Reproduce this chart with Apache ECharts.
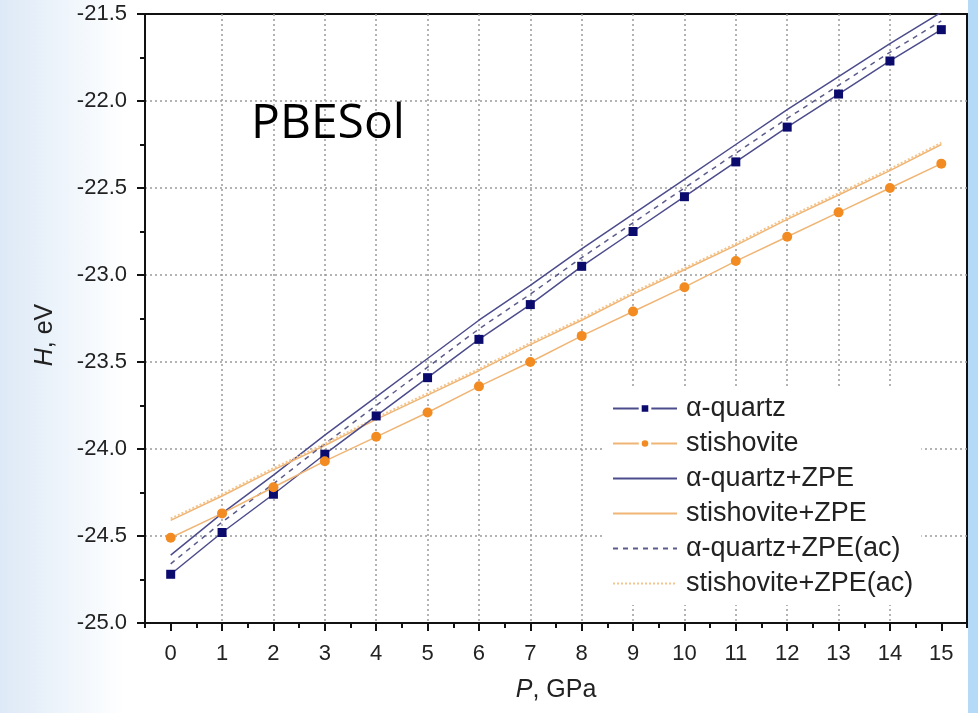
<!DOCTYPE html>
<html>
<head>
<meta charset="utf-8">
<script src="https://cdn.jsdelivr.net/npm/echarts@6/dist/echarts.min.js"></script>
<style>
html,body{margin:0;padding:0;width:978px;height:713px;overflow:hidden;}
body{background:
 linear-gradient(to right,#b5daf7 0,#b5daf7 100%) no-repeat 968px 0/10px 713px,
 linear-gradient(to right,#dde9f6 0px,#edf4fb 60px,#ffffff 125px,#ffffff 100%);}
#chart{width:978px;height:713px;}
</style>
</head>
<body>
<div id="chart"></div>
<script>
const pressure = [0,1,2,3,4,5,6,7,8,9,10,11,12,13,14,15];
const xTicks = [0,1,2,3,4,5,6,7,8,9,10,11,12,13,14,15];
const quartz = [-24.72,-24.48,-24.26,-24.03,-23.81,-23.59,-23.37,-23.17,-22.95,-22.75,-22.55,-22.35,-22.15,-21.96,-21.77,-21.59];
const stishovite = [-24.51,-24.37,-24.22,-24.07,-23.93,-23.79,-23.64,-23.50,-23.35,-23.21,-23.07,-22.92,-22.78,-22.64,-22.50,-22.36];
const quartzZPE = [-24.61,-24.37,-24.15,-23.92,-23.70,-23.48,-23.26,-23.06,-22.85,-22.65,-22.45,-22.25,-22.05,-21.86,-21.67,-21.49];
const stishZPE = [-24.41,-24.27,-24.12,-23.98,-23.83,-23.69,-23.55,-23.40,-23.26,-23.11,-22.97,-22.83,-22.68,-22.54,-22.40,-22.25];
const quartzZPEac = [-24.66,-24.42,-24.20,-23.97,-23.75,-23.53,-23.31,-23.11,-22.90,-22.70,-22.50,-22.30,-22.10,-21.91,-21.72,-21.54];
const stishZPEac = [-24.40,-24.26,-24.11,-23.97,-23.82,-23.68,-23.54,-23.39,-23.25,-23.10,-22.96,-22.82,-22.67,-22.53,-22.39,-22.24];
const seriesNames = ['α-quartz','stishovite','α-quartz+ZPE','stishovite+ZPE','α-quartz+ZPE(ac)','stishovite+ZPE(ac)'];

const pairs = arr => pressure.map((p,i)=>[p,arr[i]]);
const blueLine = '#4c4c8c', orangeLine = '#f0b574', orangeDot = '#f3c58f';
const font = 'Liberation Sans, Arial, sans-serif';
const noMarker = {color:'rgba(0,0,0,0)',borderColor:'rgba(0,0,0,0)',borderWidth:0};
const gapMarker = {borderColor:'#fff',borderWidth:3};
const gridLine = {show:true,showMinLine:false,showMaxLine:false,lineStyle:{color:'#9a9a9a',width:1.5,type:[2,3]}};

const chart = echarts.init(document.getElementById('chart'), null, {renderer:'canvas'});
chart.setOption({
  animation:false,
  textStyle:{fontFamily:font},
  grid:{left:145,right:11,top:14,bottom:90,show:true,borderColor:'#111',borderWidth:2,backgroundColor:'#fff'},
  xAxis:[{
    type:'value',min:-0.5,max:15.5,interval:0.5,
    name:'{i|P}, GPa',nameLocation:'middle',nameGap:55,
    nameTextStyle:{fontSize:25,color:'#222',rich:{i:{fontStyle:'italic',fontSize:25,color:'#222'}}},
    axisLine:{show:true,onZero:false,lineStyle:{color:'#111',width:2}},
    axisTick:{show:true,length:8,lineStyle:{color:'#111',width:2},customValues:xTicks},
    axisLabel:{fontSize:22,color:'#222',margin:20,customValues:xTicks},
    splitLine:gridLine
  },{
    type:'value',min:-0.5,max:15.5,interval:0.5,position:'bottom',
    axisLine:{show:false},
    axisTick:{show:true,length:5,lineStyle:{color:'#111',width:2}},
    axisLabel:{show:false},splitLine:{show:false}
  }],
  yAxis:{
    type:'value',min:-25,max:-21.5,interval:0.5,
    axisLine:{show:true,onZero:false,lineStyle:{color:'#111',width:2}},
    axisTick:{show:true,length:8,lineStyle:{color:'#111',width:2}},
    minorTick:{show:true,splitNumber:2,length:5,lineStyle:{color:'#111',width:2}},
    axisLabel:{fontSize:22,color:'#222',margin:18,formatter:v=>v.toFixed(1)},
    splitLine:gridLine
  },
  legend:{
    orient:'vertical',left:604,top:389,
    data:[
      {name:seriesNames[0],itemStyle:gapMarker},
      {name:seriesNames[1],itemStyle:gapMarker},
      {name:seriesNames[2],itemStyle:noMarker},
      {name:seriesNames[3],itemStyle:noMarker},
      {name:seriesNames[4],itemStyle:noMarker},
      {name:seriesNames[5],itemStyle:noMarker}
    ],
    itemWidth:64,itemHeight:12,itemGap:8,
    backgroundColor:'#fff',padding:[6,8,8,8],
    textStyle:{fontSize:27,color:'#222',padding:[0,0,0,4]}
  },
  graphic:[{
    type:'text',left:251,top:100,z:50,
    style:{text:'PBESol',font:'48px "Open Sans", "Noto Sans", sans-serif',fill:'#000'}
  },{
    type:'text',x:45,y:335,rotation:Math.PI/2,z:50,
    style:{text:'{i|H}, eV',font:'25px '+font,fill:'#222',align:'center',verticalAlign:'middle',
      rich:{i:{fontStyle:'italic',fontSize:25,fontFamily:font,fill:'#222'}}}
  }],
  series:[
    {name:seriesNames[0],type:'line',data:pairs(quartz),symbol:'rect',symbolSize:9,z:10,
     itemStyle:{color:'#0b0b6e'},lineStyle:{color:blueLine,width:1.5}},
    {name:seriesNames[1],type:'line',data:pairs(stishovite),symbol:'circle',symbolSize:10,z:10,
     itemStyle:{color:'#f28c22'},lineStyle:{color:orangeLine,width:1.5}},
    {name:seriesNames[2],type:'line',data:pairs(quartzZPE),symbol:'none',
     itemStyle:{color:blueLine},lineStyle:{color:blueLine,width:1.5}},
    {name:seriesNames[3],type:'line',data:pairs(stishZPE),symbol:'none',
     itemStyle:{color:orangeLine},lineStyle:{color:orangeLine,width:1.5}},
    {name:seriesNames[4],type:'line',data:pairs(quartzZPEac),symbol:'none',
     itemStyle:{color:blueLine},lineStyle:{color:'#5c5c8c',width:1.5,type:[5,5]}},
    {name:seriesNames[5],type:'line',data:pairs(stishZPEac),symbol:'none',
     itemStyle:{color:orangeDot},lineStyle:{color:orangeDot,width:2,type:[2,2]}}
  ]
});
</script>
</body>
</html>
